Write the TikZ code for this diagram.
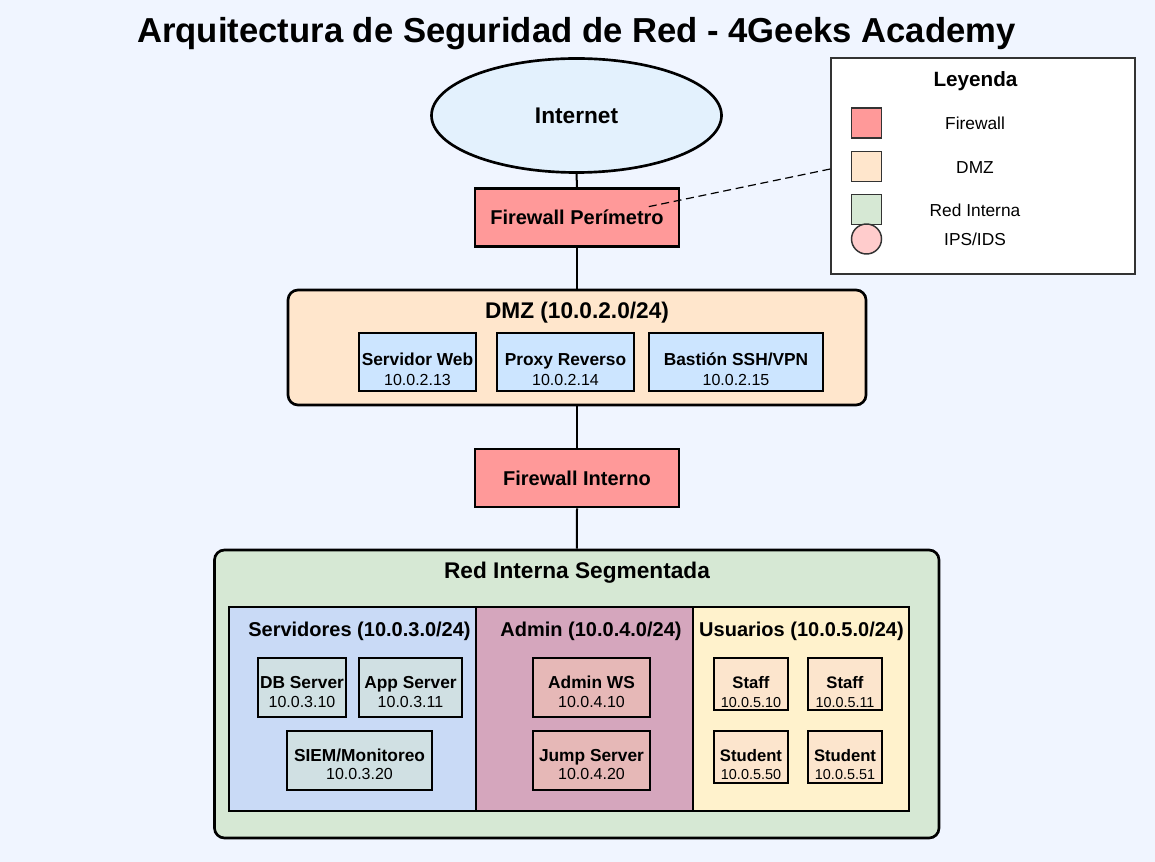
\documentclass[tikz,border=0pt]{standalone}
\usepackage{fontspec}
\setmainfont{Liberation Sans}
\usetikzlibrary{shapes.geometric}
\usetikzlibrary{positioning}

\definecolor{bgblue}{RGB}{240,245,255}
\definecolor{netblue}{RGB}{227,241,253}
\definecolor{fwred}{RGB}{255,153,153}
\definecolor{dmzpeach}{RGB}{255,230,204}
\definecolor{dmzhostblue}{RGB}{204,229,255}
\definecolor{langreen}{RGB}{214,232,212}
\definecolor{srvblue}{RGB}{201,218,246}
\definecolor{admmauve}{RGB}{213,166,189}
\definecolor{usryellow}{RGB}{255,242,204}
\definecolor{srvhostgray}{RGB}{208,224,227}
\definecolor{admhostrose}{RGB}{230,184,183}
\definecolor{usrhostpeach}{RGB}{252,229,205}
\definecolor{ipspink}{RGB}{255,204,204}
\definecolor{legendgray}{RGB}{51,51,51}

\tikzset{
  netbox/.style={draw=black, line width=2pt, rectangle, inner sep=0pt},
  firewall/.style={netbox, fill=fwred, minimum width=153pt, minimum height=43.5pt,
    font=\fontsize{15}{18}\selectfont\bfseries},
  zone/.style={netbox, rounded corners=7.5pt},
  segment/.style={netbox, minimum height=153pt},
  dmzhost/.style={netbox, fill=dmzhostblue, minimum height=43.5pt},
  srvhost/.style={netbox, fill=srvhostgray, minimum height=44.25pt},
  admhost/.style={netbox, fill=admhostrose, minimum height=44.25pt},
  usrhost/.style={netbox, fill=usrhostpeach, minimum width=55.5pt, minimum height=39pt},
  zonetitle/.style={anchor=base, inner sep=0pt, font=\fontsize{17}{20}\selectfont\bfseries},
  segtitle/.style={anchor=base, inner sep=0pt, font=\fontsize{15}{18}\selectfont\bfseries},
  hostname/.style={anchor=base, inner sep=0pt, font=\fontsize{13}{15}\selectfont\bfseries},
  hostip/.style={anchor=base, inner sep=0pt, font=\fontsize{12}{14}\selectfont},
  username/.style={anchor=base, inner sep=0pt, font=\fontsize{12.5}{15}\selectfont\bfseries},
  userip/.style={anchor=base, inner sep=0pt, font=\fontsize{10.8}{13}\selectfont},
  swatch/.style={draw=legendgray, line width=1.1pt, minimum size=22.5pt, inner sep=0pt},
  keytext/.style={anchor=base, inner sep=0pt, font=\fontsize{13}{15}\selectfont},
  link/.style={line width=1.5pt}
}

\begin{document}
\begin{tikzpicture}[x=0.75pt, y=-0.75pt]
    % Canvas
    \fill[bgblue] (0,0) rectangle (1155,862);
    \useasboundingbox (0,0) rectangle (1155,862);

    % Title
    \node[anchor=base, inner sep=0pt, font=\fontsize{26}{30}\selectfont\bfseries] (title) at (576.5,43)
        {Arquitectura de Seguridad de Red - 4Geeks Academy};

    % Internet and perimeter firewall
    \node[ellipse, draw=black, line width=2pt, fill=netblue, minimum width=217.5pt, minimum height=85.5pt,
          inner sep=0pt, font=\fontsize{17}{20}\selectfont\bfseries] (internet) at (576.5,115.5) {Internet};
    \node[firewall] (fw-perim) at (577,217.5) {Firewall Perímetro};

    % DMZ
    \node[zone, fill=dmzpeach, minimum width=433.5pt, minimum height=86.25pt] (dmz) at (577,347.5) {};
    \node[zonetitle] (dmz-title) at (577,319) {DMZ (10.0.2.0/24)};
    \node[dmzhost, minimum width=87.75pt] (web) at (417.5,362) {};
    \node[hostname] (web-n) at (417.5,365.5) {Servidor Web};
    \node[hostip] (web-ip) at (417.5,386) {10.0.2.13};
    \node[dmzhost, minimum width=102.75pt] (proxy) at (565.5,362) {};
    \node[hostname] (proxy-n) at (565.5,365.5) {Proxy Reverso};
    \node[hostip] (proxy-ip) at (565.5,386) {10.0.2.14};
    \node[dmzhost, minimum width=130.5pt] (bastion) at (736,362) {};
    \node[hostname] (bastion-n) at (736,365.5) {Bastión SSH/VPN};
    \node[hostip] (bastion-ip) at (736,386) {10.0.2.15};

    % Internal firewall
    \node[firewall] (fw-int) at (577,478) {Firewall Interno};

    % Segmented internal network
    \node[zone, fill=langreen, minimum width=543.4pt, minimum height=216pt] (lan) at (576.75,694) {};
    \node[zonetitle] (lan-title) at (577,578) {Red Interna Segmentada};

    \node[segment, fill=srvblue, minimum width=185.25pt] (seg-srv) at (352.5,709) {};
    \node[segment, fill=admmauve, minimum width=162.75pt] (seg-adm) at (584.5,709) {};
    \node[segment, fill=usryellow, minimum width=162pt] (seg-usr) at (801,709) {};
    \node[segtitle] (seg-srv-t) at (359.5,636.5) {Servidores (10.0.3.0/24)};
    \node[segtitle] (seg-adm-t) at (591,636.5) {Admin (10.0.4.0/24)};
    \node[segtitle] (seg-usr-t) at (801.5,636.5) {Usuarios (10.0.5.0/24)};

    % Servers
    \node[srvhost, minimum width=66pt] (db) at (302,687.5) {};
    \node[hostname] (db-n) at (302,688) {DB Server};
    \node[hostip] (db-ip) at (302,707) {10.0.3.10};
    \node[srvhost, minimum width=77.25pt] (app) at (410.5,687.5) {};
    \node[hostname] (app-n) at (410.5,688) {App Server};
    \node[hostip] (app-ip) at (410.5,707) {10.0.3.11};
    \node[srvhost, minimum width=108.75pt] (siem) at (359.5,760.5) {};
    \node[hostname] (siem-n) at (359.5,761) {SIEM/Monitoreo};
    \node[hostip] (siem-ip) at (359.5,779.5) {10.0.3.20};

    % Admin
    \node[admhost, minimum width=87.75pt] (adminws) at (591.5,687.5) {};
    \node[hostname] (adminws-n) at (591.5,688) {Admin WS};
    \node[hostip] (adminws-ip) at (591.5,707) {10.0.4.10};
    \node[admhost, minimum width=87.75pt] (jump) at (591.5,760.5) {};
    \node[hostname] (jump-n) at (591.5,761) {Jump Server};
    \node[hostip] (jump-ip) at (591.5,779.5) {10.0.4.20};

    % Users
    \node[usrhost] (staff1) at (751,684) {};
    \node[username] (staff1-n) at (751,688) {Staff};
    \node[userip] (staff1-ip) at (751,707) {10.0.5.10};
    \node[usrhost] (staff2) at (845,684) {};
    \node[username] (staff2-n) at (845,688) {Staff};
    \node[userip] (staff2-ip) at (845,707) {10.0.5.11};
    \node[usrhost] (student1) at (751,757) {};
    \node[username] (student1-n) at (751,761) {Student};
    \node[userip] (student1-ip) at (751,779.5) {10.0.5.50};
    \node[usrhost] (student2) at (845,757) {};
    \node[username] (student2-n) at (845,761) {Student};
    \node[userip] (student2-ip) at (845,779.5) {10.0.5.51};

    % Links
    \draw[link] (internet.south) -- (fw-perim.north);
    \draw[link] (fw-perim.south) -- (dmz.north);
    \draw[link] (dmz.south) -- (fw-int.north);
    \draw[link] (fw-int.south) -- (lan.north);

    % Legend
    \node[draw=legendgray, line width=1.1pt, fill=white, minimum width=228pt, minimum height=162pt,
          inner sep=0pt] (legend) at (983,166) {};
    \node[anchor=base, inner sep=0pt, font=\fontsize{15.5}{18}\selectfont\bfseries] (legend-title) at (975.5,87) {Leyenda};
    \node[swatch, fill=fwred] (key-fw) at (866.5,123) {};
    \node[keytext] (key-fw-t) at (975,130) {Firewall};
    \node[swatch, fill=dmzpeach] (key-dmz) at (866.5,166.5) {};
    \node[keytext] (key-dmz-t) at (975,174) {DMZ};
    \node[swatch, fill=langreen] (key-lan) at (866.5,209.5) {};
    \node[keytext] (key-lan-t) at (975,217) {Red Interna};
    \node[swatch, circle, fill=ipspink] (key-ips) at (866.5,239) {};
    \node[keytext] (key-ips-t) at (975,246) {IPS/IDS};

    % Legend pointer
    \coordinate (fw-note) at (647,207);
    \draw[line width=0.9pt, dash pattern=on 6pt off 3.5pt] ([yshift=-2.25pt]legend.west) -- (fw-note);
\end{tikzpicture}
\end{document}
